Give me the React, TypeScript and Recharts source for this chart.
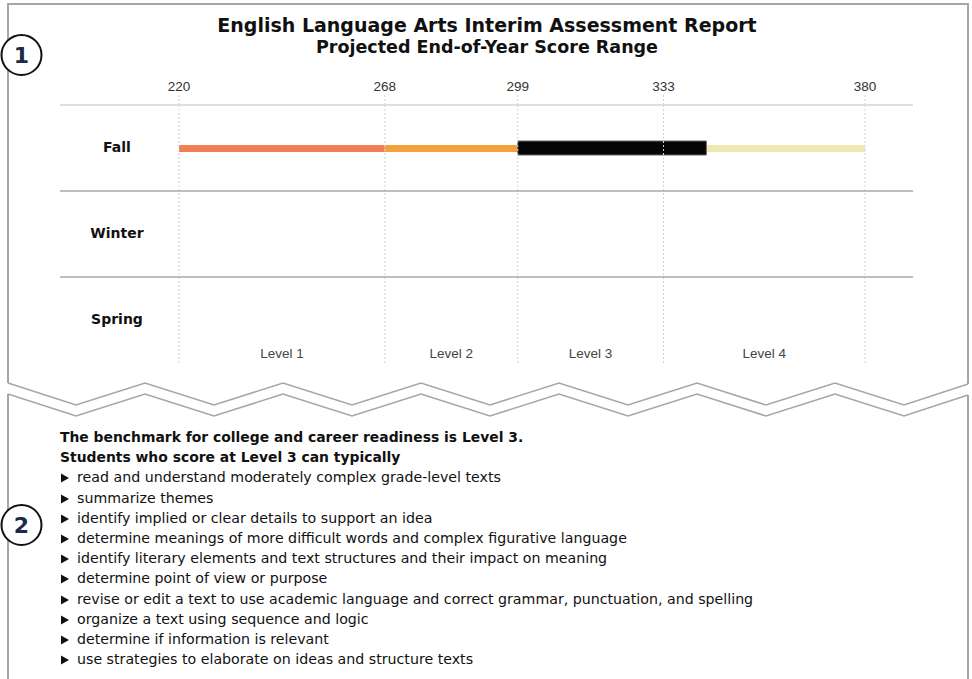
import React from "react"
import { ComposedChart, Bar, XAxis, YAxis, ReferenceLine, ReferenceArea } from "recharts"

// rows of the report
const terms = ["Fall", "Winter", "Spring"]
// level cut scores (scale ticks)
const levelCuts = [220, 268, 299, 333, 380]
const levelNames = ["Level 1", "Level 2", "Level 3", "Level 4"]
const levelColors = ["#f37f56", "#f4a13b", "#f6cf5a", "#efe9b1"]
// which rows have the level scale shown (only Fall taken so far)
const termTaken = [true, false, false]
// projected end-of-year score range per row
const projectedLow = [299, null, null]
const projectedHigh = [343, null, null]

const benchmarkLines = [
  "The benchmark for college and career readiness is Level 3.",
  "Students who score at Level 3 can typically",
]
const skills = [
  "read and understand moderately complex grade-level texts",
  "summarize themes",
  "identify implied or clear details to support an idea",
  "determine meanings of more difficult words and complex figurative language",
  "identify literary elements and text structures and their impact on meaning",
  "determine point of view or purpose",
  "revise or edit a text to use academic language and correct grammar, punctuation, and spelling",
  "organize a text using sequence and logic",
  "determine if information is relevant",
  "use strategies to elaborate on ideas and structure texts",
]

const data = terms.map((term, i) => {
  const row: Record<string, string | number> = { term }
  if (termTaken[i]) {
    row.base = levelCuts[0]
    levelNames.forEach((_, j) => {
      row["l" + j] = levelCuts[j + 1] - levelCuts[j]
    })
  }
  const lo = projectedLow[i]
  const hi = projectedHigh[i]
  if (lo != null && hi != null) {
    row.projBase = lo
    row.proj = hi - lo
  }
  return row
})

const TermTick = (props: any) => {
  const { y, payload } = props
  return (
    <text x={117} y={y} dy={4} textAnchor="middle" fontFamily="DejaVu Sans" fontWeight="bold" fontSize={14} fill="#111">
      {payload.value}
    </text>
  )
}

// zigzag "torn" edge between the two panels
function zigzag(offset: number) {
  const pts: string[] = [`8,${383 + offset}`]
  for (let x = 76; x < 968; x += 69) {
    const down = Math.round((x - 76) / 69) % 2 === 0
    pts.push(`${x},${(down ? 405 : 383) + offset}`)
  }
  pts.push(`968,${384 + offset}`)
  return pts.join(" ")
}

const Badge = ({ cy, n }: { cy: number; n: string }) => (
  <g>
    <circle cx={21.5} cy={cy} r={20} fill="#fff" stroke="#111" strokeWidth={2} />
    <text x={21.5} y={cy} dy={8} textAnchor="middle" fontFamily="DejaVu Sans" fontWeight="bold" fontSize={22} fill="#1b2a45">
      {n}
    </text>
  </g>
)

const Arrow = () => (
  <svg width={17} height={10} style={{ display: "inline-block", verticalAlign: "-1px" }}>
    <polygon points="1,0.5 9,5 1,9.5" fill="#111" />
  </svg>
)

export default function App() {
  return (
    <div style={{ position: "absolute", left: 0, top: 0, width: 972, height: 679, overflow: "hidden", background: "#fff" }}>
      <svg width={972} height={679} style={{ position: "absolute", left: 0, top: 0 }}>
        <polyline points={`8,${383} 8,4 968,4 968,384`} fill="none" stroke="#a6a6a6" strokeWidth={2} />
        <polyline points={zigzag(0)} fill="none" stroke="#a6a6a6" strokeWidth={1.5} />
        <polyline points={zigzag(11)} fill="none" stroke="#a6a6a6" strokeWidth={1.5} />
        <line x1={8} y1={394} x2={8} y2={679} stroke="#a6a6a6" strokeWidth={2} />
        <line x1={968} y1={395} x2={968} y2={679} stroke="#a6a6a6" strokeWidth={2} />
      </svg>

      <div
        style={{
          position: "absolute",
          left: 0,
          top: 13,
          width: 974,
          textAlign: "center",
          fontFamily: "DejaVu Sans",
          fontWeight: "bold",
          color: "#111",
        }}
      >
        <div style={{ fontSize: 19, lineHeight: "24px" }}>English Language Arts Interim Assessment Report</div>
        <div style={{ fontSize: 17.5, lineHeight: "21px" }}>Projected End-of-Year Score Range</div>
      </div>

      <div style={{ position: "absolute", left: 0, top: 0 }}>
        <ComposedChart
          layout="vertical"
          width={972}
          height={380}
          data={data}
          margin={{ top: 75, right: 59, bottom: 17, left: 0 }}
        >
          <XAxis
            type="number"
            orientation="top"
            domain={[levelCuts[0], levelCuts[levelCuts.length - 1]]}
            ticks={levelCuts}
            interval={0}
            allowDataOverflow
            padding={{ left: 119, right: 48 }}
            height={30}
            axisLine={false}
            tickLine={{ stroke: "#d4d4d4", strokeDasharray: "2 2" }}
            tickSize={10}
            tickMargin={4}
            tick={{ fill: "#333", fontSize: 13.5, fontFamily: "Liberation Sans, Arial" }}
          />
          <YAxis type="category" dataKey="term" width={60} axisLine={false} tickLine={false} tick={<TermTick />} />
          <YAxis yAxisId="proj" type="category" dataKey="term" hide />

          {levelCuts.map((c) => (
            <ReferenceLine key={"c" + c} x={c} stroke="#d4d4d4" strokeDasharray="2 2" />
          ))}
          {terms.map((t, i) => (
            <ReferenceLine
              key={t}
              y={t}
              position="start"
              stroke={i === 0 ? "#dedede" : "#a9a9a9"}
              strokeWidth={i === 0 ? 2 : 1.5}
            />
          ))}
          {levelNames.map((name, j) => (
            <ReferenceArea
              key={name}
              x1={levelCuts[j]}
              x2={levelCuts[j + 1]}
              fill="#fff"
              fillOpacity={0}
              stroke="none"
              label={{ value: name, position: "insideBottom", offset: 5, fill: "#444", fontSize: 13.5, fontFamily: "Liberation Sans, Arial" }}
            />
          ))}

          <Bar dataKey="base" stackId="lv" barSize={7} fill="transparent" isAnimationActive={false} />
          {levelNames.map((name, j) => (
            <Bar key={name} dataKey={"l" + j} stackId="lv" barSize={7} fill={levelColors[j]} isAnimationActive={false} />
          ))}
          <Bar yAxisId="proj" dataKey="projBase" stackId="pr" barSize={14} fill="transparent" isAnimationActive={false} />
          <Bar yAxisId="proj" dataKey="proj" stackId="pr" barSize={14} fill="#050505" stroke="#666" strokeWidth={1} isAnimationActive={false} />
        </ComposedChart>
      </div>

      <div
        style={{
          position: "absolute",
          left: 60,
          top: 427,
          fontFamily: "DejaVu Sans",
          fontSize: 14.2,
          color: "#111",
          whiteSpace: "nowrap",
        }}
      >
        {benchmarkLines.map((l) => (
          <div key={l} style={{ fontWeight: "bold", fontSize: 13.9, height: 20.2, lineHeight: "20.2px" }}>
            {l}
          </div>
        ))}
        {skills.map((s) => (
          <div key={s} style={{ height: 20.2, lineHeight: "20.2px" }}>
            <Arrow />
            {s}
          </div>
        ))}
      </div>

      <svg width={60} height={679} style={{ position: "absolute", left: 0, top: 0 }}>
        <Badge cy={55} n="1" />
        <Badge cy={525} n="2" />
      </svg>
    </div>
  )
}
